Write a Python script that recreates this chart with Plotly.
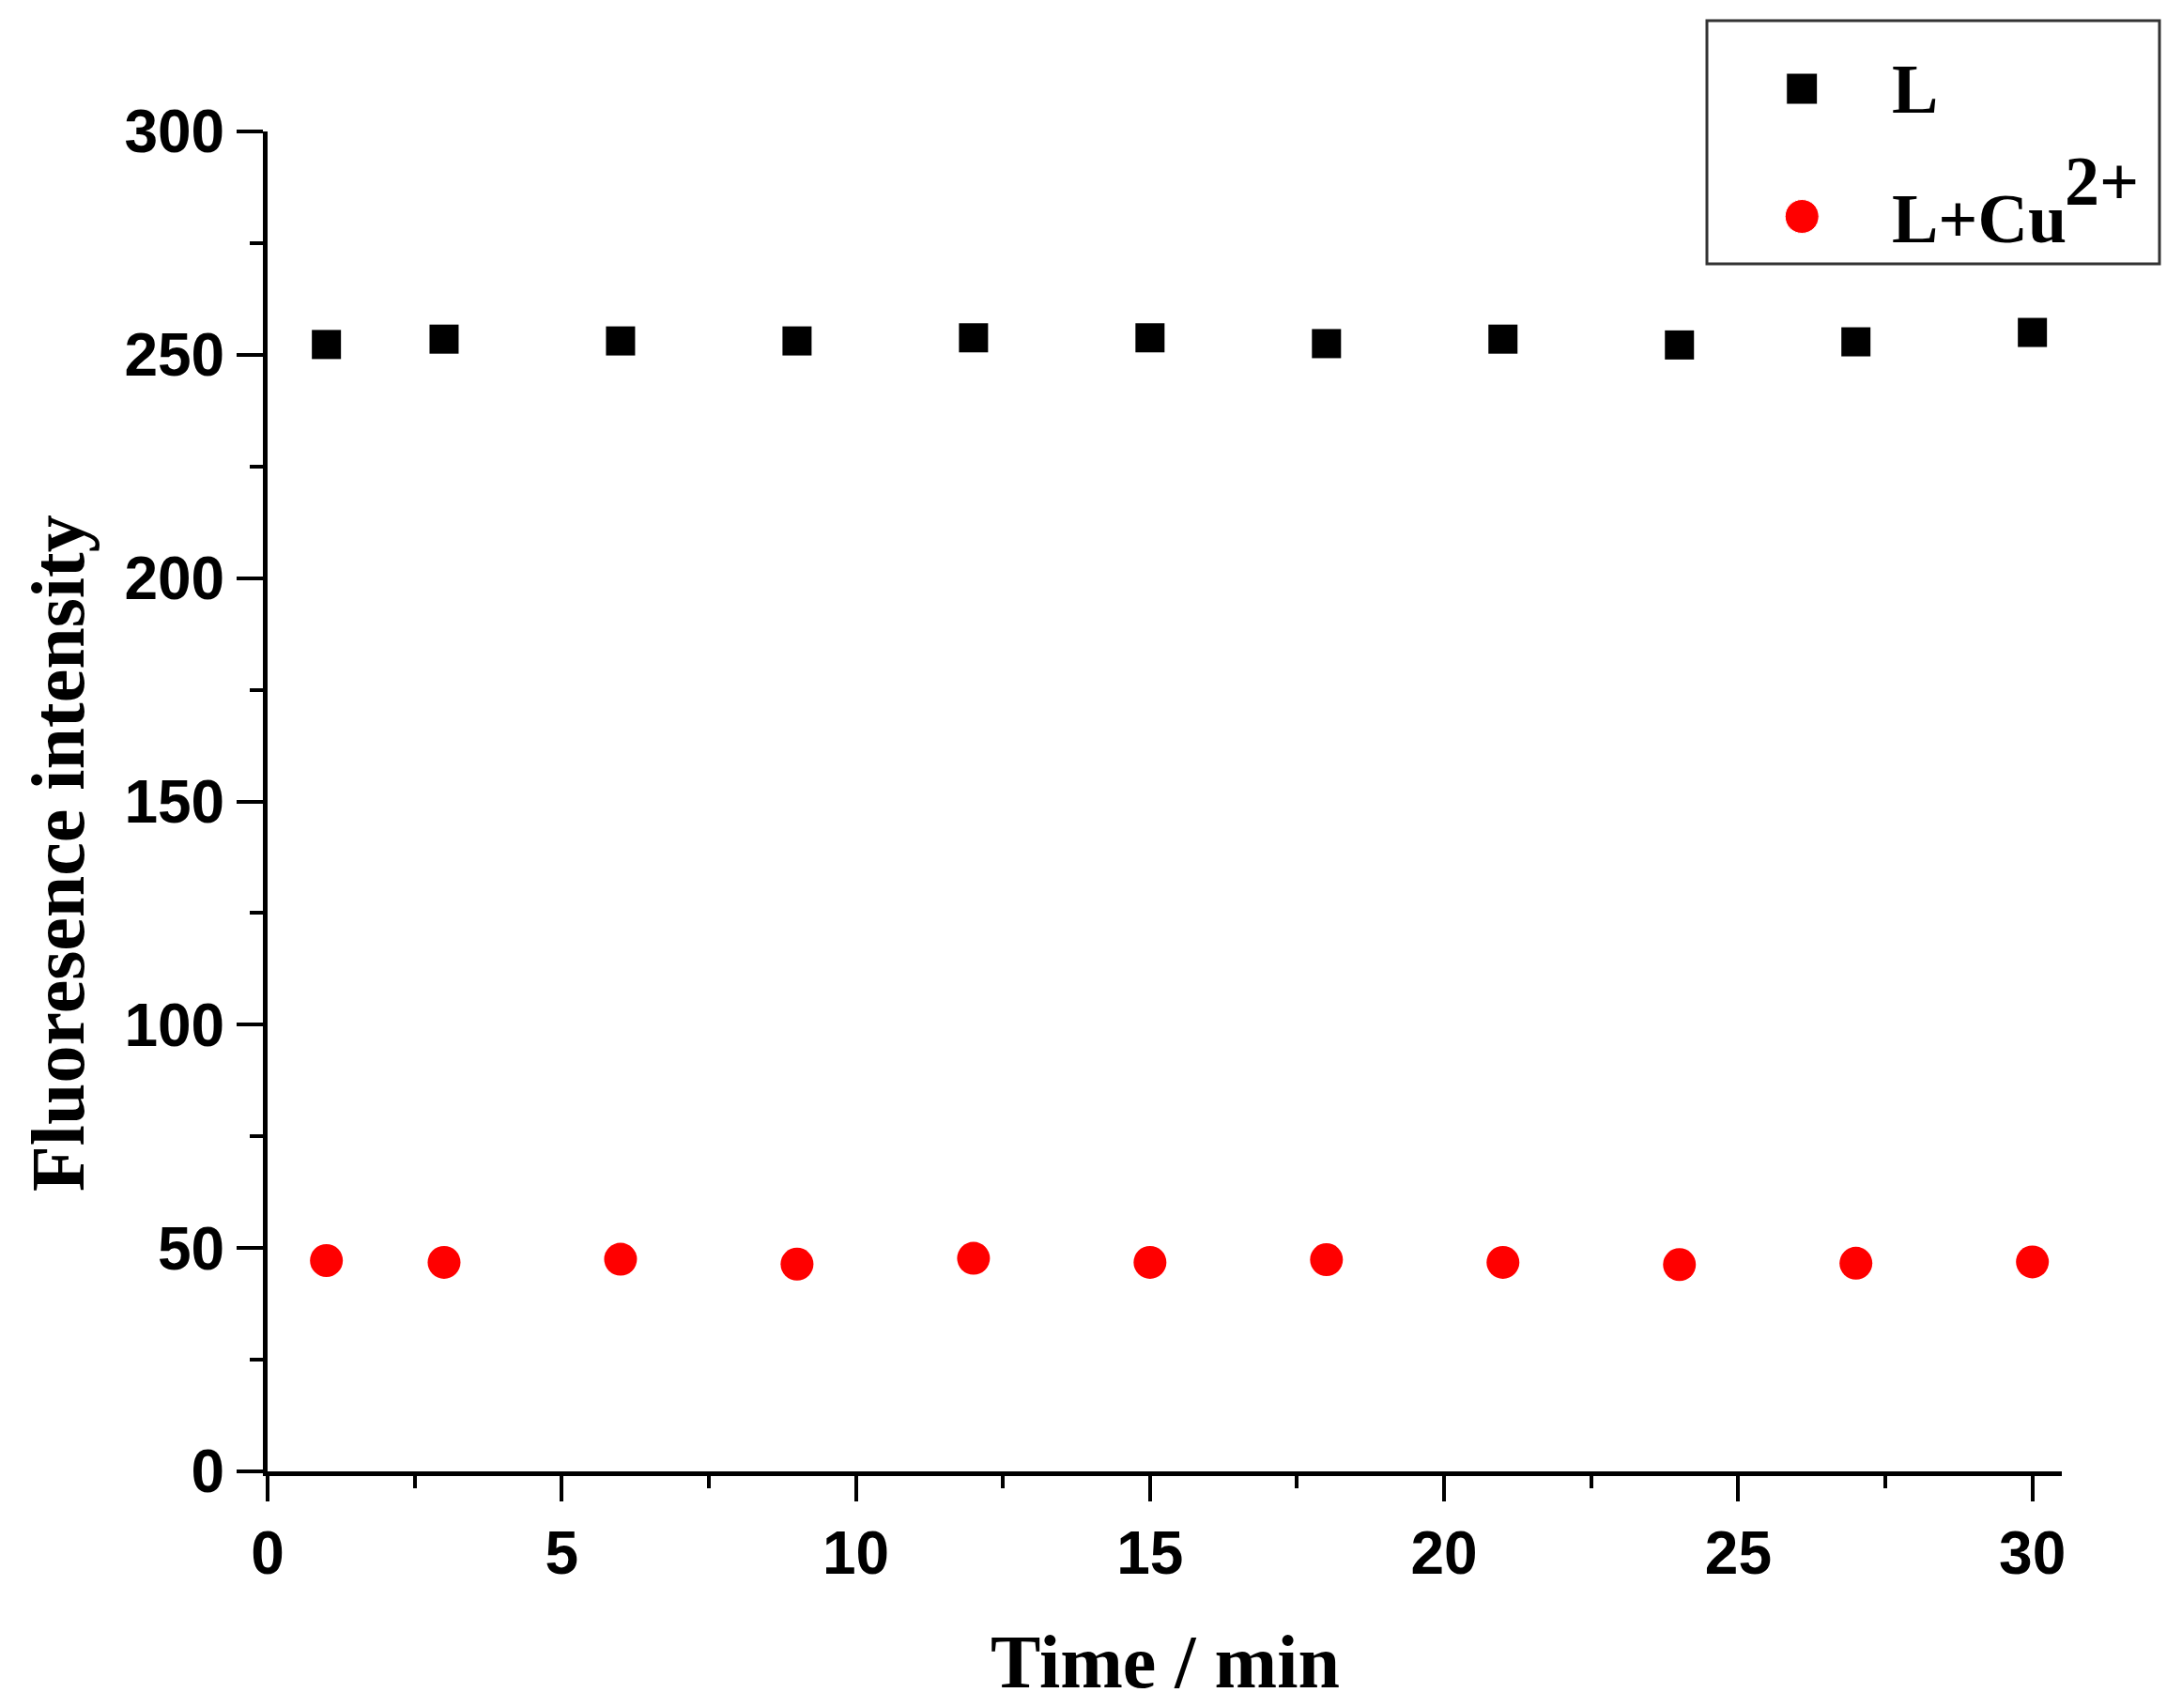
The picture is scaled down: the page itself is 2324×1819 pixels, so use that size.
import plotly.graph_objects as go

# time points (min)
time_min = [1, 3, 6, 9, 12, 15, 18, 21, 24, 27, 30]
# fluorescence intensity of L alone
fl_L = [252.3, 253.5, 253.1, 253.1, 253.8, 253.8, 252.5, 253.5, 252.2, 252.9, 255.0]
# fluorescence intensity of L + Cu2+
fl_L_Cu = [47.2, 46.8, 47.5, 46.4, 47.7, 46.8, 47.4, 46.8, 46.3, 46.6, 46.9]

names = ['L', 'L+Cu']
name_sup = '2+'
x_title = 'Time / min'
y_title = 'Fluoresence intensity'

W, H = 2324, 1819
OFF = 8  # default body margin of the html page


# pixel -> paper helpers (margins are zero, so paper == canvas)
def px(x):
    return (x - OFF) / W


def py(y):
    return 1 - (y - OFF) / H


tick_font = dict(family='Liberation Sans, Arial', size=64, color='black', weight='bold')
serif_bold = dict(family='Liberation Serif, Times New Roman', color='black', weight='bold')

fig = go.Figure()

fig.add_trace(go.Scatter(
    x=time_min, y=fl_L, mode='markers', name=names[0],
    marker=dict(symbol='square', size=31, color='black', opacity=1),
    showlegend=False, cliponaxis=False
))
fig.add_trace(go.Scatter(
    x=time_min, y=fl_L_Cu, mode='markers', name=names[1] + name_sup,
    marker=dict(symbol='circle', size=35, color='#ff0000', opacity=1),
    showlegend=False, cliponaxis=False
))

# legend keys drawn on a small hidden axis sitting in the legend box
fig.add_trace(go.Scatter(
    x=[0.21, 0.21], y=[0.72, 0.195], mode='markers', xaxis='x2', yaxis='y2',
    marker=dict(symbol=['square', 'circle'], size=[33, 36], color=['black', '#ff0000'], opacity=1),
    showlegend=False, hoverinfo='skip'
))

axis_common = dict(
    showgrid=False, zeroline=False, showline=True, linecolor='black', linewidth=5,
    ticks='outside', tickwidth=4, tickcolor='black', tickfont=tick_font,
)

fig.update_layout(
    width=W, height=H,
    margin=dict(l=0, r=0, t=0, b=0),
    paper_bgcolor='white', plot_bgcolor='white',
    xaxis=dict(
        domain=[px(285), px(2196)], range=[0, 30.5], tick0=0, dtick=5, ticklen=27,
        minor=dict(ticks='outside', dtick=2.5, tick0=0, ticklen=13, tickwidth=4, tickcolor='black'),
        automargin=False, **axis_common
    ),
    yaxis=dict(
        domain=[py(1567), py(140)], range=[0, 300], tick0=0, dtick=50, ticklen=28,
        minor=dict(ticks='outside', dtick=25, tick0=0, ticklen=14, tickwidth=4, tickcolor='black'),
        automargin=False, **axis_common
    ),
    xaxis2=dict(domain=[px(1818), px(2300)], range=[0, 1], visible=False, anchor='y2', fixedrange=True),
    yaxis2=dict(domain=[py(281), py(22)], range=[0, 1], visible=False, anchor='x2', fixedrange=True),
    showlegend=False,
)

# legend frame
fig.add_shape(type='rect', xref='paper', yref='paper',
              x0=px(1818), x1=px(2300), y0=py(281), y1=py(22),
              line=dict(color='#333333', width=3), fillcolor='rgba(0,0,0,0)')

annots = [
    dict(text=names[0], x=px(2013), y=py(95), xanchor='left', yanchor='middle',
         font=dict(size=74, **serif_bold)),
    dict(text=names[1], x=px(2013), y=py(233), xanchor='left', yanchor='middle',
         font=dict(size=74, **serif_bold)),
    dict(text=name_sup, x=px(2197), y=py(193), xanchor='left', yanchor='middle',
         font=dict(size=74, **serif_bold)),
    dict(text=x_title, x=px(1241), y=py(1770), xanchor='center', yanchor='middle',
         font=dict(size=80, **serif_bold)),
    dict(text=y_title, x=px(62), y=py(909), xanchor='center', yanchor='middle',
         textangle=-90, font=dict(size=80, **serif_bold)),
]
for a in annots:
    fig.add_annotation(xref='paper', yref='paper', showarrow=False, **a)

fig.write_html("out.html")
